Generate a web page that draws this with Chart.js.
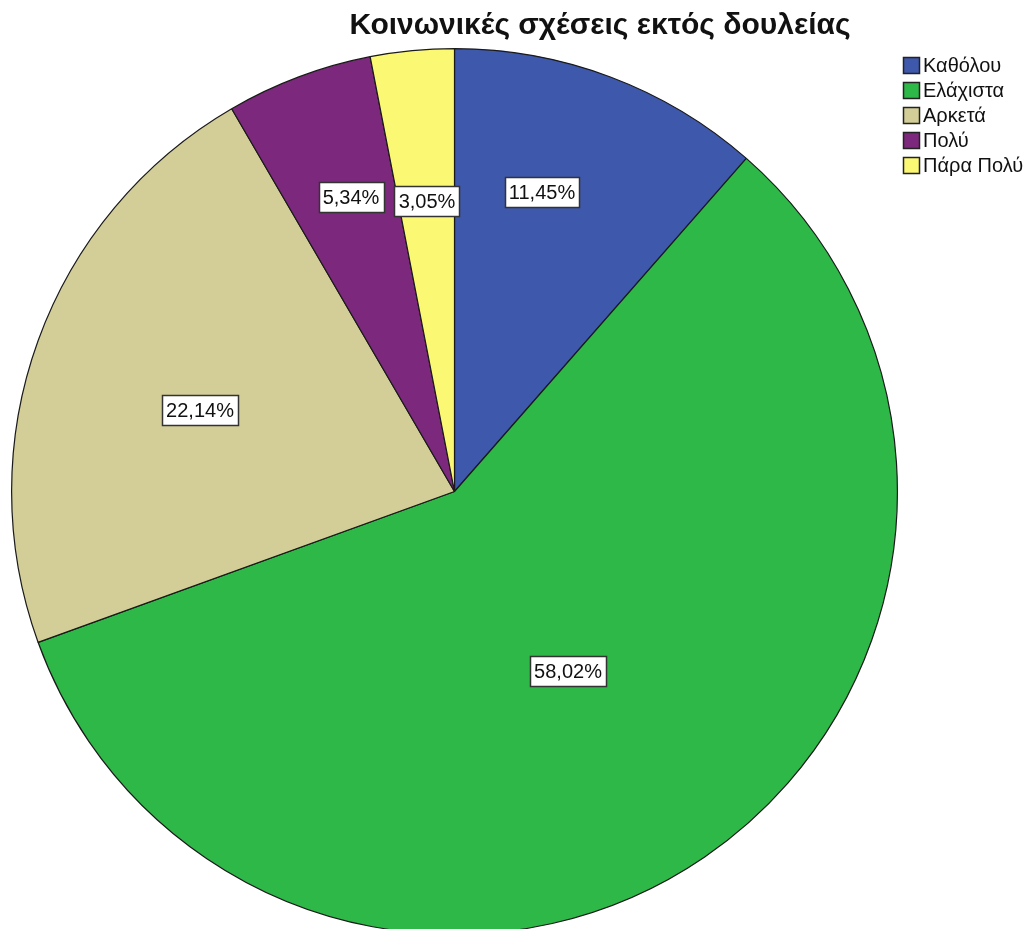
<!DOCTYPE html>
<html>
<head>
<meta charset="utf-8">
<script src="https://cdn.jsdelivr.net/npm/chart.js@4/dist/chart.umd.min.js"></script>
<style>
  html, body { margin: 0; padding: 0; background: #fff; overflow: hidden; }
  #wrap { position: absolute; left: 0; top: 0; width: 1033px; height: 940px; }
</style>
</head>
<body>
<div id="wrap"><canvas id="c" width="1033" height="940"></canvas></div>
<script>
// Categories and shares (%)
const categories = ['Καθόλου', 'Ελάχιστα', 'Αρκετά', 'Πολύ', 'Πάρα Πολύ'];
const shares = [11.45, 58.02, 22.14, 5.34, 3.05];
const sliceColors = ['#3E58AC', '#2EB848', '#D3CE97', '#7C287D', '#FBF873'];
const chartTitle = 'Κοινωνικές σχέσεις εκτός δουλείας';

// Where each value box sits inside its slice: fraction of the radius and angle nudge (deg)
const labelRadius = [0.704, 0.481, 0.604, 0.705, 0.66];
const labelNudge = [-4.4, 2.0, -2.3, 1.3, 0];

const FONT = '"Liberation Sans", Arial, sans-serif';

function fmt(v) {
  return v.toFixed(2).replace('.', ',') + '%';
}

const valueBoxes = {
  id: 'valueBoxes',
  afterDatasetsDraw(chart) {
    const ctx = chart.ctx;
    const meta = chart.getDatasetMeta(0);
    ctx.save();
    ctx.font = '20px ' + FONT;
    ctx.textAlign = 'center';
    ctx.textBaseline = 'middle';
    meta.data.forEach((arc, i) => {
      const p = arc.getProps(['x', 'y', 'startAngle', 'endAngle', 'outerRadius'], true);
      const a = (p.startAngle + p.endAngle) / 2 + labelNudge[i] * Math.PI / 180;
      const r = p.outerRadius * labelRadius[i];
      const cx = p.x + Math.cos(a) * r;
      const cy = p.y + Math.sin(a) * r;
      const txt = fmt(chart.data.datasets[0].data[i]);
      const w = Math.round(ctx.measureText(txt).width) + 8;
      const h = 30;
      const bx = Math.round(cx - w / 2) + 0.5;
      const by = Math.round(cy - h / 2) + 0.5;
      ctx.fillStyle = '#ffffff';
      ctx.fillRect(bx, by, w, h);
      ctx.strokeStyle = '#333333';
      ctx.lineWidth = 1.5;
      ctx.strokeRect(bx, by, w, h);
      ctx.fillStyle = '#111111';
      ctx.fillText(txt, Math.round(cx), Math.round(cy) + 1);
    });
    ctx.restore();
  }
};

const titleAndLegend = {
  id: 'titleAndLegend',
  afterDraw(chart) {
    const ctx = chart.ctx;
    ctx.save();
    // title
    ctx.font = 'bold 30px ' + FONT;
    ctx.fillStyle = '#111111';
    ctx.textAlign = 'center';
    ctx.textBaseline = 'middle';
    ctx.fillText(chartTitle, 600, 26);
    // legend
    ctx.font = '20px ' + FONT;
    ctx.textAlign = 'left';
    const labels = chart.data.labels;
    const colors = chart.data.datasets[0].backgroundColor;
    labels.forEach((lab, i) => {
      const y = 65 + i * 25;
      ctx.fillStyle = colors[i];
      ctx.fillRect(903.5, Math.round(y - 8) + 0.5, 16, 16);
      ctx.strokeStyle = '#222222';
      ctx.lineWidth = 1.5;
      ctx.strokeRect(903.5, Math.round(y - 8) + 0.5, 16, 16);
      ctx.fillStyle = '#111111';
      ctx.fillText(lab, 923, y + 1);
    });
    ctx.restore();
  }
};

new Chart(document.getElementById('c'), {
  type: 'pie',
  data: {
    labels: categories,
    datasets: [{
      data: shares,
      backgroundColor: sliceColors,
      borderColor: '#1a1a1a',
      borderWidth: 1.2
    }]
  },
  options: {
    responsive: false,
    animation: false,
    devicePixelRatio: 1,
    layout: { padding: { left: 11, top: 48, right: 135, bottom: 5 } },
    plugins: {
      legend: { display: false },
      tooltip: { enabled: false },
      title: { display: false }
    }
  },
  plugins: [valueBoxes, titleAndLegend]
});
</script>
</body>
</html>
